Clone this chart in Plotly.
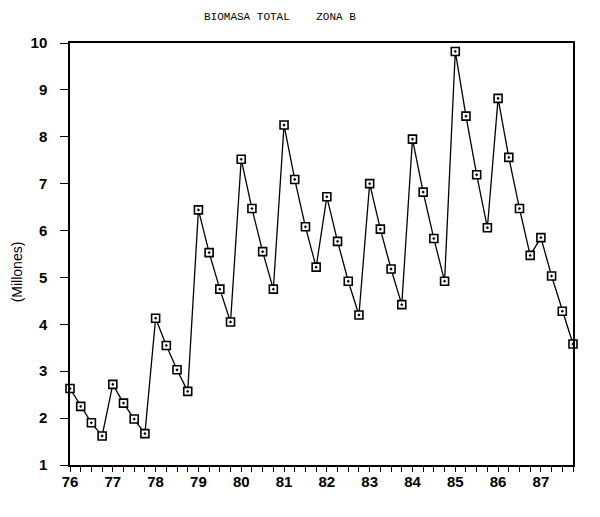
import plotly.graph_objects as go

# quarterly observations, 1976 Q1 .. 1987 Q4
year_labels = ["76", "77", "78", "79", "80", "81", "82", "83", "84", "85", "86", "87"]
year_ticks = [76, 77, 78, 79, 80, 81, 82, 83, 84, 85, 86, 87]
quarters = [0.0, 0.25, 0.5, 0.75]

biomasa = [
    2.63, 2.25, 1.90, 1.62,
    2.72, 2.32, 1.98, 1.67,
    4.13, 3.55, 3.03, 2.57,
    6.44, 5.53, 4.75, 4.05,
    7.52, 6.47, 5.55, 4.75,
    8.25, 7.09, 6.08, 5.22,
    6.72, 5.77, 4.92, 4.20,
    7.00, 6.03, 5.18, 4.42,
    7.95, 6.82, 5.83, 4.92,
    9.82, 8.44, 7.19, 6.06,
    8.82, 7.56, 6.47, 5.47,
    5.85, 5.03, 4.28, 3.58,
]

t = [y + q for y in year_ticks for q in quarters]

fig = go.Figure()
fig.add_trace(go.Scatter(
    x=t, y=biomasa, mode="lines+markers",
    line=dict(color="black", width=1.3),
    marker=dict(symbol="square-dot", size=8, color="white",
                line=dict(color="black", width=1.6)),
    showlegend=False, cliponaxis=False,
))

font_fam = "Liberation Sans, Arial, sans-serif"
fig.update_layout(
    width=600, height=517,
    margin=dict(l=62, r=35, t=35, b=60),
    paper_bgcolor="white", plot_bgcolor="white",
    font=dict(family=font_fam, color="black", size=14),
    xaxis=dict(
        range=[76, 87.75], showgrid=False, zeroline=False,
        showline=True, linecolor="black", linewidth=1.5, mirror=True,
        tickvals=year_ticks, ticktext=year_labels,
        ticks="outside", ticklen=5, tickwidth=1.2, tickcolor="black",
        minor=dict(dtick=0.25, tick0=76, ticks="outside", ticklen=5,
                   tickwidth=1.2, tickcolor="black", showgrid=False),
        tickfont=dict(size=15, family=font_fam, weight="bold"),
        ticklabelstandoff=-3,
    ),
    yaxis=dict(
        range=[1, 10], showgrid=False, zeroline=False,
        showline=True, linecolor="black", linewidth=1.5, mirror=True,
        tickvals=[1, 2, 3, 4, 5, 6, 7, 8, 9, 10],
        ticks="outside", ticklen=8, tickwidth=1.2, tickcolor="black",
        tickfont=dict(size=15, family=font_fam, weight="bold"),
        ticklabelstandoff=10,
    ),
    annotations=[
        dict(text="BIOMASA TOTAL    ZONA B", xref="paper", yref="paper",
             x=0.4175, y=1.062, showarrow=False, xanchor="center", yanchor="middle",
             font=dict(family="Liberation Mono, DejaVu Sans Mono, monospace", size=11)),
        dict(text="(Millones)", xref="paper", yref="paper",
             x=-0.105, y=0.457, textangle=-90, showarrow=False,
             xanchor="center", yanchor="middle",
             font=dict(family=font_fam, size=14)),
    ],
)

fig.write_html("out.html")
